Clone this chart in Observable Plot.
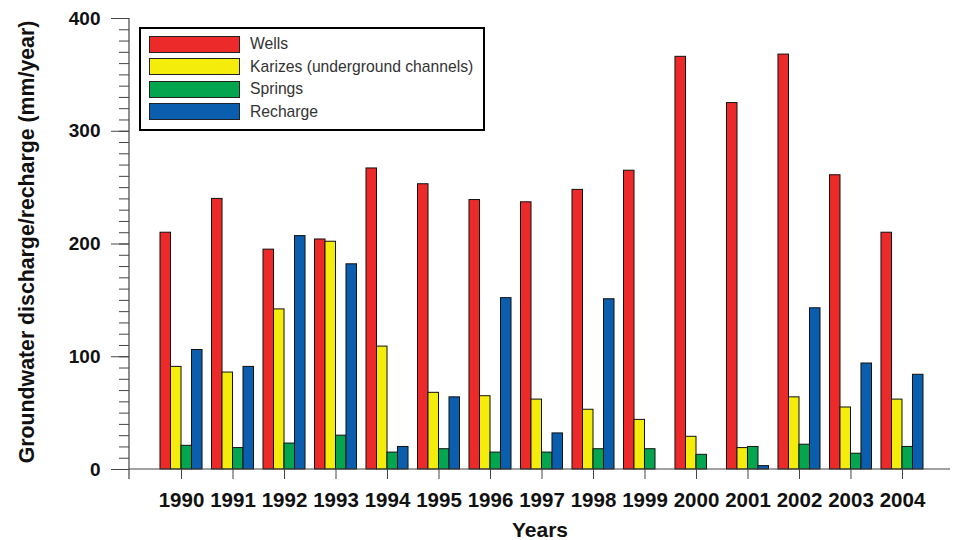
<!DOCTYPE html>
<html>
<head>
<meta charset="utf-8">
<script src="https://cdn.jsdelivr.net/npm/d3@7"></script>
<script src="https://cdn.jsdelivr.net/npm/@observablehq/plot@0.6"></script>
<style>
  html, body { margin: 0; padding: 0; background: #fff; }
  #chart { position: relative; width: 957px; height: 540px; font-family: "Liberation Sans", Arial, sans-serif; }
  #legend {
    position: absolute; left: 139px; top: 27px; width: 342px; height: 100px;
    border: 2.5px solid #000; background: #fff; box-sizing: content-box;
  }
  #legend .row { position: absolute; left: 8px; height: 18px; display: flex; align-items: center; }
  #legend .sw { width: 91px; height: 17px; border: 1px solid #222; box-sizing: border-box; }
  #legend .lab { margin-left: 10px; font-size: 15.7px; color: #333; white-space: nowrap; }
</style>
</head>
<body>
<div id="chart"></div>
<script>
// Groundwater discharge and recharge, 1990–2004 (mm/year)
const years = ["1990","1991","1992","1993","1994","1995","1996","1997","1998","1999","2000","2001","2002","2003","2004"];
const wells = [210, 240, 195, 204, 267, 253, 239, 237, 248, 265, 366, 325, 368, 261, 210];
const karizes = [91, 86, 142, 202, 109, 68, 65, 62, 53, 44, 29, 19, 64, 55, 62];
const springs = [21, 19, 23, 30, 15, 18, 15, 15, 18, 18, 13, 20, 22, 14, 20];
const recharge = [106, 91, 207, 182, 20, 64, 152, 32, 151, null, null, 3, 143, 94, 84];

const seriesNames = ["Wells", "Karizes (underground channels)", "Springs", "Recharge"];
const seriesValues = [wells, karizes, springs, recharge];
const seriesColors = ["#ED2A2A", "#F4EC0A", "#03A64F", "#0B5DAD"];

const yTicks = [0, 100, 200, 300, 400];
const yMinor = d3.range(0, 401, 10);
const yTitle = "Groundwater discharge/recharge (mm/year)";
const xTitle = "Years";

// each year's band holds the four series side by side
const nSeries = seriesValues.length;
const bandWidth = 42;
const slot = bandWidth / nSeries;

const barMarks = seriesValues.map((vals, i) => {
  const rows = years.map((year, j) => ({year, value: vals[j]})).filter(d => d.value != null);
  return Plot.barY(rows, {
    x: "year", y: "value",
    fill: seriesColors[i], stroke: "#111", strokeWidth: 1,
    insetLeft: i * slot, insetRight: (nSeries - 1 - i) * slot
  });
});

// axis lines: y spine extends a little below the baseline
const spines = (index, scales, values, dims) => {
  const g = d3.create("svg:g").attr("stroke", "#444").attr("stroke-width", 1.2);
  const y0 = scales.y(0);
  g.append("line")
    .attr("x1", dims.marginLeft).attr("x2", dims.marginLeft)
    .attr("y1", scales.y(400)).attr("y2", y0 + 10);
  g.append("line")
    .attr("x1", dims.marginLeft).attr("x2", dims.width - dims.marginRight)
    .attr("y1", y0).attr("y2", y0);
  return g.node();
};

const chart = Plot.plot({
  width: 957,
  height: 540,
  marginTop: 18,
  marginBottom: 71,
  marginLeft: 129,
  marginRight: 7,
  style: {fontFamily: "'Liberation Sans', Arial, sans-serif", background: "#fff"},
  x: {domain: years, range: [134.25, 948.75], paddingInner: 0.184, paddingOuter: 0.5, round: false},
  y: {domain: [0, 400]},
  marks: [
    ...barMarks,
    Plot.axisY(yMinor, {tickSize: 10, tickFormat: () => "", stroke: "#444", label: null}),
    Plot.axisY(yTicks, {tickSize: 18, tickPadding: 11, fontSize: 19, fontWeight: "bold", fill: "#111", stroke: "#444", label: null}),
    Plot.axisX({tickSize: 10, tickPadding: 13, fontSize: 20.5, fontWeight: "bold", fill: "#111", stroke: "#444", label: null}),
    spines,
    Plot.text([yTitle], {frameAnchor: "left", textAnchor: "middle", rotate: -90, dx: -102, dy: -2, fontSize: 21.3, fontWeight: "bold", fill: "#111"}),
    Plot.text([xTitle], {frameAnchor: "bottom", dy: 67, fontSize: 21, fontWeight: "bold", fill: "#111"})
  ]
});

const root = document.getElementById("chart");
root.appendChild(chart);

// legend box inside the plot area
const legend = document.createElement("div");
legend.id = "legend";
seriesNames.forEach((name, i) => {
  const row = document.createElement("div");
  row.className = "row";
  row.style.top = (6 + i * 22.6) + "px";
  const sw = document.createElement("div");
  sw.className = "sw";
  sw.style.background = seriesColors[i];
  const lab = document.createElement("span");
  lab.className = "lab";
  lab.textContent = name;
  row.appendChild(sw);
  row.appendChild(lab);
  legend.appendChild(row);
});
root.appendChild(legend);
</script>
</body>
</html>
